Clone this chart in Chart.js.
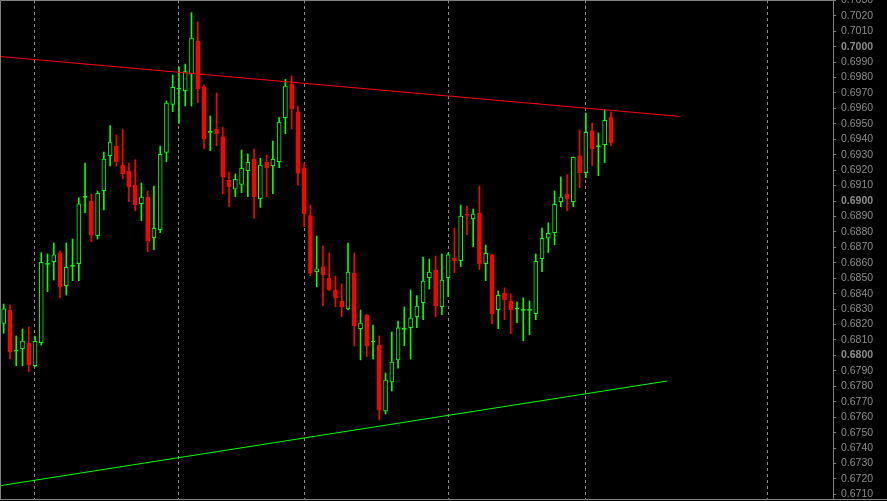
<!DOCTYPE html>
<html>
<head>
<meta charset="utf-8">
<script src="https://cdn.jsdelivr.net/npm/chart.js@4.4.0/dist/chart.umd.min.js"></script>
<style>
  html, body { margin: 0; padding: 0; background: #000; }
  canvas { display: block; }
</style>
</head>
<body>
<canvas id="chart" width="887" height="501"></canvas>
<script>
// candles, oldest first (one per bar)
const OPEN = [
  0.68208, 0.68294, 0.68027, 0.68043, 0.68080, 0.67933, 0.68082, 0.68590, 0.68607, 0.68664,
  0.68452, 0.68577, 0.68594, 0.69024, 0.69000, 0.68775, 0.69067, 0.69293, 0.69356, 0.69233,
  0.69194, 0.69104, 0.68983, 0.69026, 0.68762, 0.68814, 0.69315, 0.69626, 0.69724, 0.69715,
  0.69823, 0.70036, 0.69739, 0.69445, 0.69466, 0.69415, 0.69136, 0.69076, 0.69108, 0.69196,
  0.69272, 0.69015, 0.69253, 0.69229, 0.69255, 0.69540, 0.69758, 0.69577, 0.69214, 0.68905,
  0.68542, 0.68573, 0.68501, 0.68424, 0.68352, 0.68301, 0.68534, 0.68173, 0.68262, 0.68087,
  0.68067, 0.67640, 0.67828, 0.67971, 0.68169, 0.68180, 0.68251, 0.68341, 0.68503, 0.68553,
  0.68316, 0.68503, 0.68631, 0.68614, 0.68916, 0.68886, 0.68922, 0.68595, 0.68651, 0.68296,
  0.68404, 0.68352, 0.68299, 0.68292, 0.68292, 0.68270, 0.68627, 0.68759, 0.68795, 0.68996,
  0.69045, 0.68996, 0.69292, 0.69183, 0.69454, 0.69352, 0.69365, 0.69544
];
const HIGH = [
  0.68333, 0.68327, 0.68126, 0.68171, 0.68184, 0.68126, 0.68666, 0.68657, 0.68728, 0.68677,
  0.68728, 0.68754, 0.69022, 0.69246, 0.69045, 0.69065, 0.69317, 0.69488, 0.69428, 0.69466,
  0.69246, 0.69266, 0.69117, 0.69065, 0.69097, 0.69356, 0.69648, 0.69816, 0.69868, 0.69887,
  0.70220, 0.70160, 0.69751, 0.69551, 0.69700, 0.69479, 0.69188, 0.69175, 0.69330, 0.69305,
  0.69337, 0.69277, 0.69298, 0.69389, 0.69540, 0.69788, 0.69810, 0.69615, 0.69246, 0.68974,
  0.68773, 0.68709, 0.68664, 0.68514, 0.68463, 0.68728, 0.68664, 0.68294, 0.68265, 0.68197,
  0.68126, 0.67886, 0.68152, 0.68223, 0.68314, 0.68424, 0.68387, 0.68637, 0.68624, 0.68644,
  0.68657, 0.68664, 0.68825, 0.68974, 0.68968, 0.68948, 0.69097, 0.68715, 0.68654, 0.68417,
  0.68437, 0.68398, 0.68346, 0.68372, 0.68352, 0.68657, 0.68825, 0.68858, 0.69065, 0.69156,
  0.69169, 0.69286, 0.69460, 0.69570, 0.69505, 0.69441, 0.69590, 0.69577
];
const LOW = [
  0.68143, 0.67977, 0.67933, 0.67933, 0.67894, 0.67925, 0.68067, 0.68413, 0.68488, 0.68374,
  0.68391, 0.68484, 0.68484, 0.68924, 0.68737, 0.68754, 0.68942, 0.69227, 0.69227, 0.69145,
  0.68996, 0.68937, 0.68873, 0.68672, 0.68685, 0.68795, 0.69255, 0.69579, 0.69503, 0.69615,
  0.69615, 0.69637, 0.69339, 0.69326, 0.69358, 0.69047, 0.68963, 0.69028, 0.69054, 0.69028,
  0.68888, 0.68959, 0.69028, 0.69047, 0.69216, 0.69436, 0.69466, 0.69104, 0.68834, 0.68517,
  0.68445, 0.68322, 0.68420, 0.68316, 0.68251, 0.68294, 0.68061, 0.67971, 0.67992, 0.67977,
  0.67582, 0.67621, 0.67770, 0.67918, 0.68063, 0.67977, 0.68180, 0.68231, 0.68430, 0.68251,
  0.68264, 0.68380, 0.68536, 0.68575, 0.68782, 0.68704, 0.68555, 0.68484, 0.68205, 0.68173,
  0.68231, 0.68141, 0.68212, 0.68095, 0.68134, 0.68231, 0.68542, 0.68666, 0.68717, 0.68963,
  0.68937, 0.68963, 0.69086, 0.69151, 0.69229, 0.69164, 0.69248, 0.69358
];
const CLOSE = [
  0.68301, 0.68024, 0.68027, 0.68093, 0.67938, 0.68091, 0.68603, 0.68590, 0.68651, 0.68445,
  0.68571, 0.68577, 0.68981, 0.69024, 0.68780, 0.69050, 0.69272, 0.69382, 0.69255, 0.69177,
  0.69091, 0.68976, 0.69026, 0.68743, 0.68823, 0.69303, 0.69635, 0.69737, 0.69724, 0.69838,
  0.70056, 0.69727, 0.69404, 0.69445, 0.69436, 0.69158, 0.69093, 0.69141, 0.69212, 0.69251,
  0.69028, 0.69233, 0.69216, 0.69270, 0.69512, 0.69745, 0.69596, 0.69181, 0.68918, 0.68533,
  0.68560, 0.68521, 0.68424, 0.68374, 0.68314, 0.68540, 0.68191, 0.68210, 0.68061, 0.68087,
  0.67646, 0.67841, 0.67957, 0.68178, 0.68169, 0.68242, 0.68320, 0.68482, 0.68540, 0.68322,
  0.68488, 0.68651, 0.68614, 0.68903, 0.68907, 0.68916, 0.68594, 0.68661, 0.68268, 0.68389,
  0.68361, 0.68296, 0.68299, 0.68292, 0.68292, 0.68610, 0.68759, 0.68791, 0.68979, 0.69026,
  0.69013, 0.69283, 0.69183, 0.69445, 0.69337, 0.69352, 0.69523, 0.69376
];

// trend lines: bar index -> price
const RESIST_X = [-0.59, 108];
const RESIST_Y = [0.69936, 0.69548];
const SUPPORT_X = [-0.59, 105.96];
const SUPPORT_Y = [0.67156, 0.67834];

// period separators (bar index)
const SEPARATORS = [5, 28, 48, 71, 93, 122];

const Y_TICKS = [
  "0.6710", "0.6720", "0.6730", "0.6740", "0.6750", "0.6760", "0.6770", "0.6780", "0.6790",
  "0.6800", "0.6810", "0.6820", "0.6830", "0.6840", "0.6850", "0.6860", "0.6870", "0.6880",
  "0.6890", "0.6900", "0.6910", "0.6920", "0.6930", "0.6940", "0.6950", "0.6960", "0.6970",
  "0.6980", "0.6990", "0.7000", "0.7010", "0.7020", "0.7030"
];

const GREEN = "#00ff00";
const RED = "#ff0000";
const GRAY = "#808080";

const isBull = i => CLOSE[i] >= OPEN[i];
const candleColor = OPEN.map((o, i) => isBull(i) ? GREEN : RED);
const bodyFill = OPEN.map((o, i) => CLOSE[i] > o ? "#000000" : CLOSE[i] === o ? GREEN : RED);

/* ── frame round the plot ── */
const framePlugin = {
  id: "frame",
  afterDraw(chart) {
    const { ctx, chartArea: a } = chart;
    ctx.save();
    ctx.strokeStyle = GRAY;
    ctx.lineWidth = 1;
    ctx.beginPath();
    ctx.moveTo(a.left + 0.5, a.bottom + 0.5);
    ctx.lineTo(a.left + 0.5, a.top + 0.5);
    ctx.lineTo(a.right + 0.5, a.top + 0.5);
    ctx.moveTo(a.left, a.bottom + 0.5);
    ctx.lineTo(chart.width, a.bottom + 0.5);
    ctx.stroke();
    ctx.restore();
  }
};

new Chart(document.getElementById("chart"), {
  type: "bar",
  data: {
    datasets: [
      {
        type: "line",
        data: RESIST_X.map((x, i) => ({ x, y: RESIST_Y[i] })),
        borderColor: RED,
        borderWidth: 1,
        pointRadius: 0,
        order: 0,
      },
      {
        type: "line",
        data: SUPPORT_X.map((x, i) => ({ x, y: SUPPORT_Y[i] })),
        borderColor: GREEN,
        borderWidth: 1,
        pointRadius: 0,
        order: 0,
      },
      {
        // bodies
        data: OPEN.map((o, i) => ({ x: i, y: [o, CLOSE[i]] })),
        backgroundColor: bodyFill,
        borderColor: candleColor,
        borderWidth: 1,
        borderSkipped: false,
        barThickness: 4,
        minBarLength: 1,
        grouped: false,
        order: 1,
      },
      {
        // wicks
        data: OPEN.map((o, i) => ({ x: i, y: [LOW[i], HIGH[i]] })),
        backgroundColor: candleColor,
        borderWidth: 0,
        barThickness: 1,
        grouped: false,
        order: 2,
      },
    ],
  },
  options: {
    responsive: false,
    devicePixelRatio: 1,
    animation: false,
    layout: { padding: { top: 0, left: 0, right: 0, bottom: 2 } },
    plugins: { legend: { display: false }, tooltip: { enabled: false } },
    scales: {
      x: {
        type: "linear",
        min: -0.591,
        max: 132.48,
        offset: false,
        z: 1,
        afterBuildTicks: s => { s.ticks = SEPARATORS.map(v => ({ value: v })); },
        afterFit: s => { s.height = 0; s.paddingLeft = 0; s.paddingRight = 0; },
        ticks: { display: false },
        grid: { offset: false, color: "#8c8c8c", lineWidth: 1, drawTicks: false },
        border: { display: false, dash: [3, 3] },
      },
      y: {
        position: "right",
        min: 0.67070,
        max: 0.70302,
        afterBuildTicks: s => { s.ticks = Y_TICKS.map(t => ({ value: parseFloat(t) })); },
        afterFit: s => { s.width = 54; s.paddingTop = 0; s.paddingBottom = 0; },
        ticks: {
          autoSkip: false,
          padding: 5,
          color: "#8c8c8c",
          callback: (v, i) => Y_TICKS[i],
          font: ctx => ({
            family: "Liberation Sans",
            size: 10.5,
            weight: (Y_TICKS[ctx.index] || "").endsWith("00") ? "bold" : "normal",
          }),
        },
        grid: { drawOnChartArea: false, drawTicks: true, tickLength: 3, color: GRAY },
        border: { display: true, color: GRAY, width: 1 },
      },
    },
  },
  plugins: [framePlugin],
});
</script>
</body>
</html>
